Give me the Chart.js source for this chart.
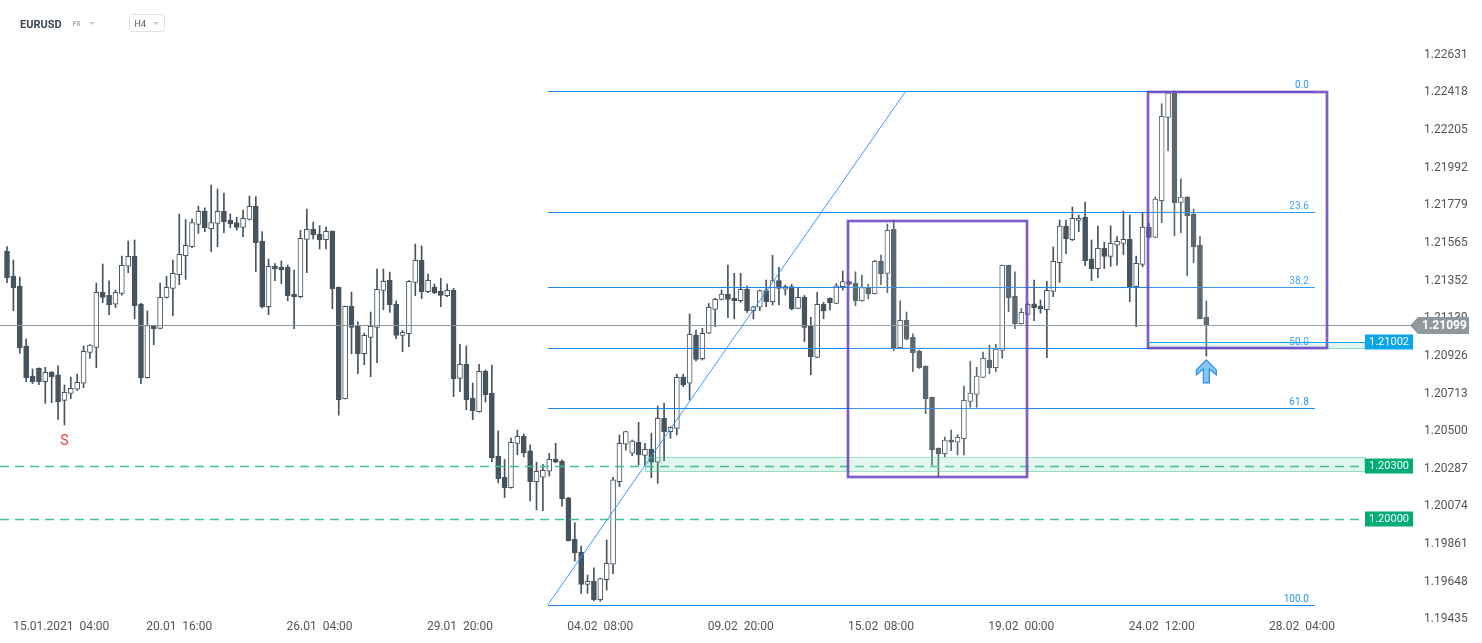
<!DOCTYPE html>
<html>
<head>
<meta charset="utf-8">
<script src="https://cdn.jsdelivr.net/npm/chart.js@4.4.1/dist/chart.umd.min.js"></script>
<style>
  html, body { margin: 0; padding: 0; background: #fff; }
  #wrap { position: relative; width: 1482px; height: 643px; font-family: Roboto, sans-serif; overflow: hidden; }
  #grafico { position: absolute; left: 0; top: 0; }
  .sym { position: absolute; left: 20px; top: 18.5px; font-size: 11px; line-height: 11px; font-weight: 700; color: #3c4752; }
  .fx { position: absolute; left: 72.5px; top: 21px; font-size: 7px; line-height: 7px; font-weight: 700; color: #a8afb5; }
  .tri { position: absolute; width: 0; height: 0; border-left: 3.5px solid transparent; border-right: 3.5px solid transparent; border-top: 3.5px solid #c8ccd0; }
  .tf { position: absolute; left: 129px; top: 14px; width: 34px; height: 16px; border: 1px solid #e0e3e6; border-radius: 3px; }
  .tf span { position: absolute; left: 4.5px; top: 5px; font-size: 9px; line-height: 9px; color: #555; }
</style>
</head>
<body>
<div id="wrap">
  <canvas id="grafico" width="1482" height="643"></canvas>
  <div class="sym">EURUSD</div>
  <div class="fx">FX</div>
  <div class="tri" style="left:88.5px; top:21.5px;"></div>
  <div class="tf"><span>H4</span><div class="tri" style="left:23px; top:6.5px;"></div></div>
</div>
<script>
// EURUSD H4, 15.01 - 25.02.2021
const open = [
  1.21519, 1.21378, 1.21321, 1.20982, 1.20812, 1.20855, 1.20780, 1.20833, 1.20818, 1.20674,
  1.20714, 1.20737, 1.20771, 1.20946, 1.20974, 1.21285, 1.21268, 1.21218, 1.21280, 1.21433,
  1.21489, 1.21219, 1.20803, 1.21097, 1.21082, 1.21257, 1.21308, 1.21385, 1.21493, 1.21544,
  1.21670, 1.21744, 1.21646, 1.21676, 1.21744, 1.21693, 1.21681, 1.21653, 1.21698, 1.21772,
  1.21574, 1.21204, 1.21434, 1.21427, 1.21427, 1.21274, 1.21261, 1.21585, 1.21642, 1.21614,
  1.21583, 1.21631, 1.21314, 1.20684, 1.21206, 1.21095, 1.20938, 1.21031, 1.21087, 1.21297,
  1.21355, 1.21218, 1.21042, 1.21052, 1.21342, 1.21466, 1.21289, 1.21316, 1.21291, 1.21267,
  1.21297, 1.20799, 1.20878, 1.20686, 1.20610, 1.20840, 1.20714, 1.20357, 1.20239, 1.20180,
  1.20431, 1.20471, 1.20388, 1.20214, 1.20239, 1.20273, 1.20340, 1.20329, 1.20122, 1.19888,
  1.19816, 1.19633, 1.19650, 1.19546, 1.19660, 1.19747, 1.20214, 1.20426, 1.20375, 1.20437,
  1.20363, 1.20397, 1.20324, 1.20573, 1.20497, 1.20516, 1.20806, 1.20771, 1.21044, 1.20910,
  1.21054, 1.21189, 1.21246, 1.21276, 1.21253, 1.21238, 1.21303, 1.21182, 1.21201, 1.21295,
  1.21233, 1.21352, 1.21303, 1.21318, 1.21195, 1.21257, 1.21097, 1.20917, 1.21217, 1.21251,
  1.21223, 1.21317, 1.21347, 1.21336, 1.21238, 1.21308, 1.21278, 1.21461, 1.21393, 1.21642,
  1.20972, 1.21127, 1.21031, 1.20953, 1.20868, 1.20691, 1.20403, 1.20372, 1.20450, 1.20437,
  1.20457, 1.20668, 1.20708, 1.20804, 1.20902, 1.20859, 1.20957, 1.21438, 1.21265, 1.21108,
  1.21161, 1.21220, 1.21208, 1.21187, 1.21291, 1.21454, 1.21661, 1.21584, 1.21693, 1.21712,
  1.21474, 1.21420, 1.21535, 1.21489, 1.21552, 1.21563, 1.21586, 1.21318, 1.21444, 1.21655,
  1.21597, 1.21804, 1.22276, 1.22415, 1.21795, 1.21825, 1.21729, 1.21553, 1.21144
];
const high = [
  1.21544, 1.21468, 1.21372, 1.21021, 1.20852, 1.20859, 1.20861, 1.20838, 1.20869, 1.20761,
  1.20806, 1.20823, 1.20982, 1.20990, 1.21338, 1.21446, 1.21350, 1.21299, 1.21491, 1.21576,
  1.21582, 1.21223, 1.21180, 1.21100, 1.21338, 1.21376, 1.21468, 1.21729, 1.21698, 1.21700,
  1.21774, 1.21764, 1.21893, 1.21870, 1.21847, 1.21729, 1.21710, 1.21751, 1.21830, 1.21827,
  1.21629, 1.21474, 1.21448, 1.21463, 1.21440, 1.21412, 1.21636, 1.21757, 1.21683, 1.21663,
  1.21655, 1.21634, 1.21316, 1.21208, 1.21287, 1.21118, 1.21055, 1.21174, 1.21417, 1.21417,
  1.21400, 1.21238, 1.21070, 1.21352, 1.21559, 1.21548, 1.21389, 1.21333, 1.21365, 1.21333,
  1.21308, 1.20991, 1.20982, 1.20772, 1.20878, 1.20846, 1.20874, 1.20501, 1.20340, 1.20461,
  1.20506, 1.20484, 1.20422, 1.20324, 1.20312, 1.20374, 1.20431, 1.20337, 1.20125, 1.19982,
  1.19850, 1.19686, 1.19726, 1.19668, 1.19884, 1.20239, 1.20478, 1.20500, 1.20450, 1.20550,
  1.20431, 1.20488, 1.20642, 1.20657, 1.20525, 1.20823, 1.20823, 1.21163, 1.21072, 1.21082,
  1.21223, 1.21252, 1.21299, 1.21440, 1.21393, 1.21393, 1.21321, 1.21208, 1.21299, 1.21355,
  1.21495, 1.21427, 1.21327, 1.21331, 1.21312, 1.21268, 1.21144, 1.21285, 1.21229, 1.21254,
  1.21336, 1.21406, 1.21350, 1.21402, 1.21383, 1.21332, 1.21468, 1.21496, 1.21672, 1.21694,
  1.21238, 1.21174, 1.21051, 1.20959, 1.20870, 1.20693, 1.20405, 1.20467, 1.20506, 1.20480,
  1.20755, 1.20895, 1.20861, 1.20948, 1.20987, 1.20991, 1.21440, 1.21440, 1.21401, 1.21195,
  1.21223, 1.21355, 1.21242, 1.21348, 1.21542, 1.21695, 1.21695, 1.21768, 1.21723, 1.21797,
  1.21582, 1.21661, 1.21569, 1.21661, 1.21601, 1.21746, 1.21723, 1.21491, 1.21736, 1.21676,
  1.21825, 1.22353, 1.22420, 1.22425, 1.21927, 1.21828, 1.21757, 1.21601, 1.21237
];
const low = [
  1.21340, 1.21182, 1.20940, 1.20780, 1.20769, 1.20763, 1.20657, 1.20661, 1.20567, 1.20535,
  1.20684, 1.20730, 1.20746, 1.20912, 1.20859, 1.21227, 1.21159, 1.21199, 1.21270, 1.21397,
  1.21136, 1.20769, 1.20800, 1.20989, 1.21078, 1.21252, 1.21153, 1.21329, 1.21359, 1.21538,
  1.21619, 1.21629, 1.21515, 1.21544, 1.21623, 1.21651, 1.21638, 1.21600, 1.21695, 1.21402,
  1.21197, 1.21159, 1.21351, 1.21334, 1.21238, 1.21080, 1.21255, 1.21397, 1.21587, 1.21531,
  1.21531, 1.21193, 1.20591, 1.20682, 1.20938, 1.20825, 1.20876, 1.20808, 1.20888, 1.21187,
  1.21172, 1.21023, 1.20950, 1.20978, 1.21267, 1.21250, 1.21283, 1.21278, 1.21204, 1.21261,
  1.20695, 1.20723, 1.20621, 1.20565, 1.20607, 1.20665, 1.20327, 1.20208, 1.20124, 1.20177,
  1.20367, 1.20354, 1.20105, 1.20054, 1.20050, 1.20246, 1.20321, 1.20076, 1.19878, 1.19765,
  1.19582, 1.19582, 1.19541, 1.19537, 1.19601, 1.19694, 1.20186, 1.20393, 1.20361, 1.20307,
  1.20307, 1.20237, 1.20205, 1.20333, 1.20459, 1.20478, 1.20752, 1.20676, 1.20897, 1.20903,
  1.21052, 1.21091, 1.21242, 1.21142, 1.21135, 1.21229, 1.21172, 1.21135, 1.21182, 1.21204,
  1.21214, 1.21214, 1.21270, 1.21186, 1.21193, 1.21006, 1.20819, 1.20915, 1.21136, 1.21185,
  1.21221, 1.21298, 1.21327, 1.21210, 1.21236, 1.21249, 1.21276, 1.21329, 1.21283, 1.20955,
  1.20970, 1.21016, 1.20836, 1.20855, 1.20599, 1.20308, 1.20242, 1.20355, 1.20389, 1.20365,
  1.20365, 1.20635, 1.20635, 1.20802, 1.20825, 1.20836, 1.20912, 1.21176, 1.21080, 1.21106,
  1.21157, 1.21125, 1.21167, 1.20916, 1.21261, 1.21342, 1.21504, 1.21578, 1.21629, 1.21437,
  1.21352, 1.21369, 1.21420, 1.21433, 1.21440, 1.21499, 1.21233, 1.21091, 1.21431, 1.21591,
  1.21595, 1.21680, 1.22087, 1.21606, 1.21623, 1.21380, 1.21454, 1.21135, 1.20925
];
const close = [
  1.21368, 1.21312, 1.20972, 1.20803, 1.20780, 1.20780, 1.20833, 1.20808, 1.20667, 1.20720,
  1.20742, 1.20776, 1.20952, 1.20987, 1.21285, 1.21257, 1.21216, 1.21285, 1.21438, 1.21489,
  1.21210, 1.20803, 1.21097, 1.21080, 1.21257, 1.21314, 1.21393, 1.21500, 1.21551, 1.21681,
  1.21744, 1.21651, 1.21681, 1.21744, 1.21685, 1.21674, 1.21653, 1.21704, 1.21772, 1.21566,
  1.21204, 1.21433, 1.21419, 1.21414, 1.21267, 1.21261, 1.21591, 1.21642, 1.21612, 1.21583,
  1.21631, 1.21306, 1.20678, 1.21206, 1.21087, 1.20938, 1.21042, 1.21093, 1.21302, 1.21348,
  1.21216, 1.21042, 1.21059, 1.21348, 1.21466, 1.21289, 1.21353, 1.21283, 1.21268, 1.21297,
  1.20797, 1.20878, 1.20678, 1.20616, 1.20838, 1.20706, 1.20348, 1.20231, 1.20180, 1.20437,
  1.20471, 1.20378, 1.20214, 1.20273, 1.20278, 1.20340, 1.20324, 1.20118, 1.19880, 1.19812,
  1.19633, 1.19650, 1.19546, 1.19665, 1.19752, 1.20224, 1.20431, 1.20497, 1.20444, 1.20367,
  1.20397, 1.20324, 1.20573, 1.20497, 1.20522, 1.20804, 1.20761, 1.21048, 1.20906, 1.21054,
  1.21201, 1.21246, 1.21276, 1.21246, 1.21238, 1.21303, 1.21182, 1.21204, 1.21295, 1.21233,
  1.21352, 1.21308, 1.21318, 1.21191, 1.21257, 1.21087, 1.20921, 1.21217, 1.21181, 1.21227,
  1.21323, 1.21347, 1.21332, 1.21238, 1.21313, 1.21278, 1.21461, 1.21391, 1.21636, 1.20972,
  1.21127, 1.21021, 1.20944, 1.20859, 1.20684, 1.20395, 1.20372, 1.20450, 1.20437, 1.20465,
  1.20674, 1.20716, 1.20812, 1.20912, 1.20859, 1.20965, 1.21438, 1.21255, 1.21108, 1.21173,
  1.21218, 1.21199, 1.21191, 1.21297, 1.21461, 1.21661, 1.21589, 1.21704, 1.21704, 1.21465,
  1.21420, 1.21535, 1.21489, 1.21563, 1.21574, 1.21586, 1.21318, 1.21450, 1.21655, 1.21597,
  1.21814, 1.22281, 1.22415, 1.21793, 1.21825, 1.21719, 1.21544, 1.21137, 1.21099
];

// etiquetas del eje de tiempo (índice de vela)
const tickIdx = [8.5, 27, 49, 71, 93, 115, 137, 159, 181, 203];
const tickText = ["15.01.2021  04:00", "20.01  16:00", "26.01  04:00", "29.01  20:00", "04.02  08:00",
                  "09.02  20:00", "15.02  08:00", "19.02  00:00", "24.02  12:00", "28.02  04:00"];
const yTicks = [1.22631, 1.22418, 1.22205, 1.21992, 1.21779, 1.21565, 1.21352, 1.21139,
                1.20926, 1.20713, 1.20500, 1.20287, 1.20074, 1.19861, 1.19648, 1.19435];

// niveles y dibujos
const precioActual = 1.21099;
const nivelesVerdes = [1.20300, 1.20000];
const nivelAzul = 1.21002;
const fibBajo = 1.19518, fibAlto = 1.22425;
const fibDesde = 84.8, fibHasta = 205, fibTope = 140.9;
const fibNiveles = [0, 23.6, 38.2, 50, 61.8, 100];
const cajaX1 = [131.8, 178.8], cajaX2 = [159.9, 206.9];
const cajaArriba = [1.21689, 1.22419], cajaAbajo = [1.20241, 1.20971];
const zonaDesde = [100, 178.8], zonaArriba = [1.20352, 1.21003], zonaAbajo = [1.20276, 1.20969];
const flecha = { x: 188, y: 1.20903 };
const senal = { x: 9, y: 1.20439, texto: "S" };

const OSCURO = "#45545f";
Chart.defaults.font.family = "Roboto";

// sin márgenes extra de las etiquetas: el área del gráfico queda fija
function sinRelleno(s) {
  s.paddingLeft = 0; s.paddingRight = 0; s.paddingTop = 0; s.paddingBottom = 0;
}

const capas = {
  id: "capas",
  afterDatasetsDraw(chart) {
    const { ctx, chartArea: a, scales: { x, y } } = chart;
    const px = v => x.getPixelForValue(v);
    const py = v => Math.round(y.getPixelForValue(v)) + 0.5;
    ctx.save();

    // zonas verdes
    zonaDesde.forEach((d, i) => {
      const x1 = Math.round(px(d)) + 0.5, x2 = a.right + 3;
      const y1 = Math.round(y.getPixelForValue(zonaArriba[i])) + 0.5;
      const y2 = Math.round(y.getPixelForValue(zonaAbajo[i])) + 0.5;
      ctx.fillStyle = "rgba(70, 200, 150, 0.17)";
      ctx.fillRect(x1, y1, x2 - x1, y2 - y1);
      ctx.strokeStyle = "rgba(70, 200, 150, 0.55)";
      ctx.lineWidth = 1;
      ctx.strokeRect(x1, y1, x2 - x1, y2 - y1);
    });

    // líneas discontinuas
    ctx.setLineDash([9, 6]);
    ctx.lineWidth = 1.3;
    ctx.strokeStyle = "#3cc492";
    nivelesVerdes.forEach(v => {
      ctx.beginPath();
      ctx.moveTo(a.left, py(v));
      ctx.lineTo(a.right, py(v));
      ctx.stroke();
    });
    ctx.setLineDash([]);

    // precio actual
    ctx.strokeStyle = "#8e979d";
    ctx.lineWidth = 1;
    ctx.beginPath();
    ctx.moveTo(a.left, py(precioActual));
    ctx.lineTo(1412, py(precioActual));
    ctx.stroke();

    // fibonacci
    ctx.strokeStyle = "#1a88f0";
    ctx.fillStyle = "#2196f3";
    ctx.font = "10px Roboto";
    ctx.textAlign = "right";
    ctx.textBaseline = "alphabetic";
    fibNiveles.forEach(p => {
      const v = fibAlto - p / 100 * (fibAlto - fibBajo);
      ctx.beginPath();
      ctx.moveTo(px(fibDesde), py(v));
      ctx.lineTo(px(fibHasta), py(v));
      ctx.stroke();
      ctx.fillText(p.toFixed(1), px(fibHasta) - 6, py(v) - 4);
    });
    ctx.strokeStyle = "#3399ff";
    ctx.beginPath();
    ctx.moveTo(px(fibDesde), y.getPixelForValue(fibBajo));
    ctx.lineTo(px(fibTope), y.getPixelForValue(fibAlto));
    ctx.stroke();

    // cajas moradas
    cajaX1.forEach((c, i) => {
      const x1 = Math.round(px(c)), x2 = Math.round(px(cajaX2[i]));
      const y1 = Math.round(y.getPixelForValue(cajaArriba[i])), y2 = Math.round(y.getPixelForValue(cajaAbajo[i]));
      ctx.fillStyle = "rgba(255, 255, 255, 0.12)";
      ctx.fillRect(x1, y1, x2 - x1, y2 - y1);
      ctx.strokeStyle = "rgba(126, 87, 194, 0.45)";
      ctx.lineWidth = 3.5;
      ctx.strokeRect(x1, y1, x2 - x1, y2 - y1);
      ctx.strokeStyle = "#6842c2";
      ctx.lineWidth = 1.5;
      ctx.strokeRect(x1, y1, x2 - x1, y2 - y1);
    });

    // nivel 1.21002
    ctx.strokeStyle = "#0ba5ec";
    ctx.lineWidth = 1;
    ctx.beginPath();
    ctx.moveTo(px(zonaDesde[1]), py(nivelAzul));
    ctx.lineTo(a.right + 3, py(nivelAzul));
    ctx.stroke();

    // flecha arriba
    const fx = px(flecha.x), fy = y.getPixelForValue(flecha.y);
    ctx.beginPath();
    ctx.moveTo(fx, fy);
    ctx.lineTo(fx + 10, fy + 10);
    ctx.lineTo(fx + 10, fy + 15);
    ctx.lineTo(fx + 3, fy + 9);
    ctx.lineTo(fx + 3, fy + 23);
    ctx.lineTo(fx - 3, fy + 23);
    ctx.lineTo(fx - 3, fy + 9);
    ctx.lineTo(fx - 10, fy + 15);
    ctx.lineTo(fx - 10, fy + 10);
    ctx.closePath();
    ctx.fillStyle = "#84c4f7";
    ctx.fill();
    ctx.strokeStyle = "#2b8ee8";
    ctx.lineWidth = 1.2;
    ctx.stroke();

    // S
    ctx.fillStyle = "#e8413c";
    ctx.font = "14px Roboto";
    ctx.textAlign = "center";
    ctx.textBaseline = "middle";
    ctx.fillText(senal.texto, px(senal.x), y.getPixelForValue(senal.y));
    ctx.restore();
  },
  afterDraw(chart) {
    const { ctx, chartArea: a, scales: { y } } = chart;
    ctx.save();
    ctx.textBaseline = "middle";
    ctx.textAlign = "center";
    ctx.font = "11px Roboto";
    const etiqueta = (v, color) => {
      const cy = Math.round(y.getPixelForValue(v));
      ctx.fillStyle = color;
      ctx.fillRect(a.right + 3, cy - 7.5, 48, 15);
      ctx.fillStyle = "#fff";
      ctx.fillText(v.toFixed(5), a.right + 27, cy + 0.5);
    };
    etiqueta(nivelAzul, "#0ba5ec");
    nivelesVerdes.forEach(v => etiqueta(v, "#00ad77"));

    // caja del precio actual
    const cy = Math.round(y.getPixelForValue(precioActual)) + 0.5;
    ctx.fillStyle = "#8f989e";
    ctx.beginPath();
    ctx.moveTo(1410, cy);
    ctx.lineTo(1418, cy - 8.5);
    ctx.lineTo(1469, cy - 8.5);
    ctx.lineTo(1469, cy + 8.5);
    ctx.lineTo(1418, cy + 8.5);
    ctx.closePath();
    ctx.fill();
    ctx.fillStyle = "#fff";
    ctx.font = "bold 12px Roboto";
    ctx.textAlign = "left";
    ctx.fillText(precioActual.toFixed(5), 1422, cy + 0.5);
    ctx.restore();
  }
};

const ctx = document.getElementById("grafico").getContext("2d");
new Chart(ctx, {
  type: "bar",
  data: {
    datasets: [
      {
        label: "cuerpo",
        data: open.map((o, i) => ({ x: i, y: [o, close[i]] })),
        backgroundColor: c => (close[c.dataIndex] >= open[c.dataIndex] ? "#ffffff" : OSCURO),
        borderColor: OSCURO,
        borderWidth: 1,
        borderSkipped: false,
        barThickness: 5,
        minBarLength: 1,
        grouped: false,
        order: 0
      },
      {
        label: "mecha",
        data: open.map((o, i) => ({ x: i, y: [low[i], high[i]] })),
        backgroundColor: OSCURO,
        barThickness: 1,
        grouped: false,
        order: 1
      }
    ]
  },
  options: {
    responsive: false,
    animation: false,
    devicePixelRatio: 1,
    layout: { padding: { top: 40, left: 0, right: 0, bottom: 0 } },
    plugins: { legend: { display: false }, tooltip: { enabled: false } },
    scales: {
      x: {
        type: "linear",
        offset: false,
        bounds: "data",
        min: -1.1,
        max: 212.4,
        grid: { display: false, drawTicks: false, offset: false },
        border: { display: false },
        afterBuildTicks: s => { s.ticks = tickIdx.map(v => ({ value: v })); },
        ticks: {
          autoSkip: false, maxRotation: 0, padding: 0, color: "#555", font: { size: 12 },
          callback: (v, i) => tickText[i]
        },
        afterFit: s => { s.height = 23; sinRelleno(s); }
      },
      y: {
        position: "right",
        bounds: "data",
        min: 1.194312,
        max: 1.227136,
        grid: { display: false, drawTicks: false },
        border: { display: false },
        afterBuildTicks: s => { s.ticks = yTicks.map(v => ({ value: v })); },
        ticks: { padding: 62, color: "#555", font: { size: 12 }, callback: v => v.toFixed(5) },
        afterFit: s => { s.width = 120; sinRelleno(s); }
      }
    }
  },
  plugins: [capas]
});
</script>
</body>
</html>
